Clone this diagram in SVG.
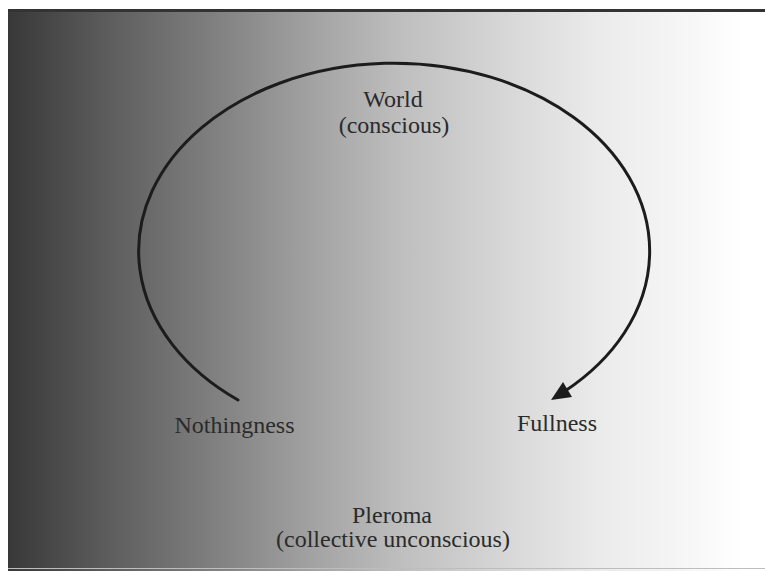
<svg xmlns="http://www.w3.org/2000/svg" width="765" height="571" viewBox="0 0 765 571">
  <style>
    .lbl { font-family: "Liberation Serif", "Times New Roman", serif; font-size: 24px; fill: #2b2b2b; text-anchor: middle; }
    .arc { fill: none; stroke: #1c1c1c; stroke-width: 3; stroke-linecap: round; }
  </style>
  <defs>
    <linearGradient id="bg" gradientUnits="userSpaceOnUse" x1="8" y1="0" x2="740" y2="0">
      <stop offset="0" stop-color="#383838"/>
      <stop offset="0.126" stop-color="#5a5a5a"/>
      <stop offset="0.303" stop-color="#858585"/>
      <stop offset="0.426" stop-color="#a5a5a5"/>
      <stop offset="0.536" stop-color="#bebebe"/>
      <stop offset="0.686" stop-color="#d8d8d8"/>
      <stop offset="0.809" stop-color="#ebebeb"/>
      <stop offset="0.945" stop-color="#f8f8f8"/>
      <stop offset="1" stop-color="#ffffff"/>
    </linearGradient>
  </defs>
  <rect x="0" y="0" width="765" height="571" fill="#ffffff"/>
  <g id="background">
    <rect x="8" y="11" width="757" height="560" fill="url(#bg)"/>
    <line x1="8" y1="10.5" x2="765" y2="10.5" stroke="#333333" stroke-width="3"/>
    <line x1="8" y1="568.5" x2="765" y2="568.5" stroke="#bdbdbd" stroke-width="1"/>
  </g>
  <g id="connectors">
    <path class="arc" d="M 238 400 A 255.5 188 0 1 1 565 391"/>
    <polygon points="551,400 563,382 572,397" fill="#1c1c1c"/>
  </g>
  <g id="world">
    <text class="lbl" x="393" y="107">World</text>
    <text class="lbl" x="394" y="133">(conscious)</text>
  </g>
  <g id="nothingness">
    <text class="lbl" x="234.5" y="433">Nothingness</text>
  </g>
  <g id="fullness">
    <text class="lbl" x="557" y="431">Fullness</text>
  </g>
  <g id="pleroma">
    <text class="lbl" x="392" y="523">Pleroma</text>
    <text class="lbl" x="393" y="547">(collective unconscious)</text>
  </g>
</svg>
